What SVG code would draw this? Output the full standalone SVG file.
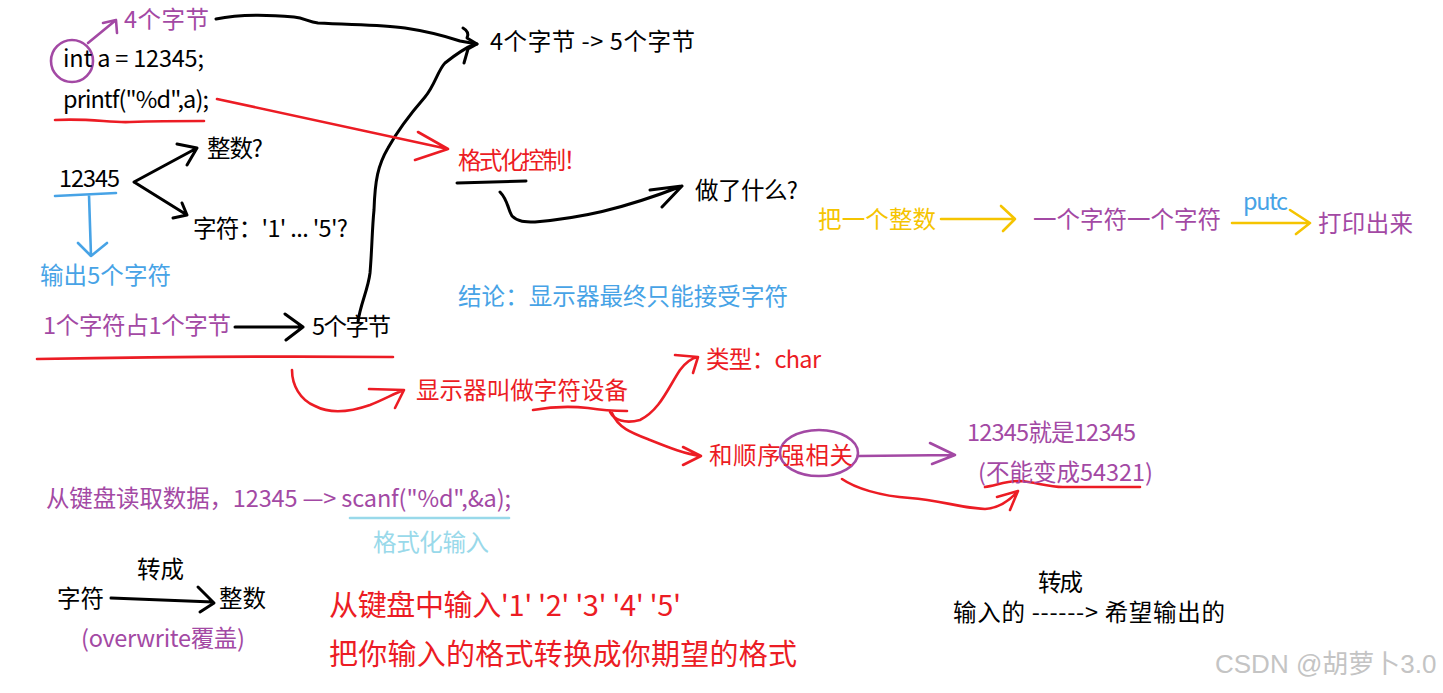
<svg xmlns="http://www.w3.org/2000/svg" width="1443" height="693" viewBox="0 0 1443 693">
<style>
text{font-family:"Noto Sans CJK SC","Noto Sans",sans-serif;font-size:23.5px}
.big{font-size:29px}
.k{fill:#000}.r{fill:#ec1c24}.p{fill:#a349a4}.b{fill:#47a3e6}.y{fill:#f5c400}.lb{fill:#99d9ea}.g{fill:#c4c4c4;font-family:"Liberation Sans","Noto Sans CJK SC",sans-serif;font-size:26px}
path,ellipse{fill:none;stroke-linecap:round;stroke-linejoin:round}
.sk{stroke:#000;stroke-width:3}.sr{stroke:#ec1c24;stroke-width:2.6}.sp{stroke:#a349a4;stroke-width:2.6}.sb{stroke:#47a3e6;stroke-width:2.6}.sy{stroke:#f5c400;stroke-width:2.6}.slb{stroke:#99d9ea;stroke-width:2.6}
</style>
<rect width="1443" height="693" fill="#fff"/>
<g id="connectors">
<path class="sk" d="M216,19 C235,15 260,14 294,17 C305,18 308,22 318,23 C350,25 380,24 405,28 C425,31 445,36 460,41 L477,44"/>
<path class="sk" d="M463,28 Q470,32 467,38 L477,44 L468,49 Q466,56 464,63"/>
<path class="sk" d="M358,322 C360,305 368,290 370,273 C372,250 372,230 374,210 C375,180 378,165 388,148 C398,130 412,112 425,97 C435,85 438,70 445,63 C455,55 465,48 475,44"/>
<path class="sr" d="M217,99 L448,149 M418,132 L448,149 L415,160"/>
<ellipse class="sp" cx="72" cy="61" rx="21" ry="21"/>
<path class="sp" d="M88,43 L116,20 M103,23 L116,20 L117,33"/>
<path class="sr" d="M55,120 C90,118 110,123 130,122 C160,121 185,121 204,121"/>
<path class="sb" d="M55,196 L116,193 M89,195 L91,256 M78,243 L91,256 L107,243"/>
<path class="sk" d="M134,182 L197,148 M177,144 L197,148 L187,165 M134,182 L187,215 M173,218 L187,215 L182,203"/>
<path class="sk" d="M235,327 L303,327 M285,314 L303,327 L286,340"/>
<path class="sr" d="M37,359 C150,357 280,356 393,357"/>
<path class="sk" d="M457,183 L526,181"/>
<path class="sk" d="M500,192 C508,200 508,210 512,216 C518,222 525,222 535,222 C580,218 620,210 682,186 M650,190 L682,186 L662,207"/>
<path class="sr" d="M292,370 C292,385 300,400 315,406 C330,414 350,412 370,405 C385,399 395,393 404,390 M369,389 L404,390 L395,408"/>
<path class="sr" d="M533,410 C550,407 570,406 588,408 C600,410 615,411 627,411"/>
<path class="sr" d="M610,412 C614,420 625,424 640,420 C660,410 668,388 680,370 C686,362 692,358 698,357 M675,355 L698,357 L693,373"/>
<path class="sr" d="M612,413 C618,428 632,433 650,440 C670,448 685,454 701,456 M683,447 L701,456 L683,465"/>
<ellipse class="sp" cx="819" cy="453" rx="39" ry="23"/>
<path class="sp" d="M858,456 L955,455 M930,443 L955,455 L932,464"/>
<path class="sr" d="M842,479 C855,488 880,496 910,498 C940,500 960,508 985,509 C1000,508 1010,500 1018,491 M997,497 L1018,491 L1010,510"/>
<path class="sr" d="M985,487 C995,486 1005,481 1020,481 C1035,482 1048,487 1063,487 L1140,487"/>
<path class="slb" d="M350,518 L509,518"/>
<path class="sk" d="M111,598 L213,602 M198,587 L214,603 L200,612"/>
<path class="sy" d="M941,219 L1015,219 M1001,206 L1015,219 L1003,231"/>
<path class="sy" d="M1232,223 L1310,223 M1290,210 L1310,223 L1296,234"/>
</g>
<g id="n-4byte"><text class="p" x="124" y="28" textLength="85">4个字节</text></g>
<g id="n-int"><text class="k" x="63" y="67" textLength="141">int a = 12345;</text></g>
<g id="n-printf"><text class="k" x="63" y="108" textLength="146">printf("%d",a);</text></g>
<g id="n-4to5"><text class="k" x="490" y="50" textLength="205">4个字节 -&gt; 5个字节</text></g>
<g id="n-int2"><text class="k" x="207" y="157" textLength="56">整数?</text></g>
<g id="n-12345"><text class="k" x="59" y="187" textLength="61">12345</text></g>
<g id="n-chars"><text class="k" x="193" y="237" textLength="155">字符：'1' ... '5'?</text></g>
<g id="n-out5"><text class="b" x="40" y="284" textLength="131">输出5个字符</text></g>
<g id="n-1char"><text class="p" x="43" y="334" textLength="188">1个字符占1个字节</text></g>
<g id="n-5byte"><text class="k" x="312" y="335" textLength="79">5个字节</text></g>
<g id="n-fmt"><text class="r" x="458" y="169" textLength="129">格式化控制！</text></g>
<g id="n-what"><text class="k" x="695" y="199" textLength="103">做了什么?</text></g>
<g id="n-concl"><text class="b" x="458" y="305" textLength="330">结论：显示器最终只能接受字符</text></g>
<g id="n-int3"><text class="y" x="818" y="228" textLength="118">把一个整数</text></g>
<g id="n-onebyone"><text class="p" x="1033" y="228" textLength="188">一个字符一个字符</text></g>
<g id="n-putc"><text class="b" x="1243" y="210" textLength="45">putc</text></g>
<g id="n-print"><text class="p" x="1318" y="232" textLength="95">打印出来</text></g>
<g id="n-device"><text class="r" x="416" y="399" textLength="212">显示器叫做字符设备</text></g>
<g id="n-type"><text class="r" x="706" y="368" textLength="115">类型：char</text></g>
<g id="n-order"><text class="r" x="709" y="464" textLength="144">和顺序强相关</text></g>
<g id="n-same"><text class="p" x="967" y="441" textLength="169">12345就是12345</text></g>
<g id="n-not"><text class="p" x="978" y="481" textLength="175">(不能变成54321)</text></g>
<g id="n-scanf"><text class="p" x="46" y="507" textLength="465">从键盘读取数据，12345 —&gt; scanf("%d",&amp;a);</text></g>
<g id="n-fmtin"><text class="lb" x="373" y="551" textLength="116">格式化输入</text></g>
<g id="n-conv1"><text class="k" x="137" y="578" textLength="47">转成</text></g>
<g id="n-char2"><text class="k" x="57" y="607" textLength="47">字符</text></g>
<g id="n-int4"><text class="k" x="219" y="607" textLength="47">整数</text></g>
<g id="n-overwrite"><text class="p" x="81" y="647" textLength="164">(overwrite覆盖)</text></g>
<g id="n-kbd"><text class="r big" x="329" y="616" textLength="352">从键盘中输入'1' '2' '3' '4' '5'</text></g>
<g id="n-conv"><text class="r big" x="329" y="665" textLength="468">把你输入的格式转换成你期望的格式</text></g>
<g id="n-conv2"><text class="k" x="1038" y="591" textLength="45">转成</text></g>
<g id="n-inout"><text class="k" x="953" y="621" textLength="272">输入的 ------&gt; 希望输出的</text></g>
<g id="watermark"><text class="g" x="1215" y="673">CSDN @胡萝卜3.0</text></g>
</svg>
